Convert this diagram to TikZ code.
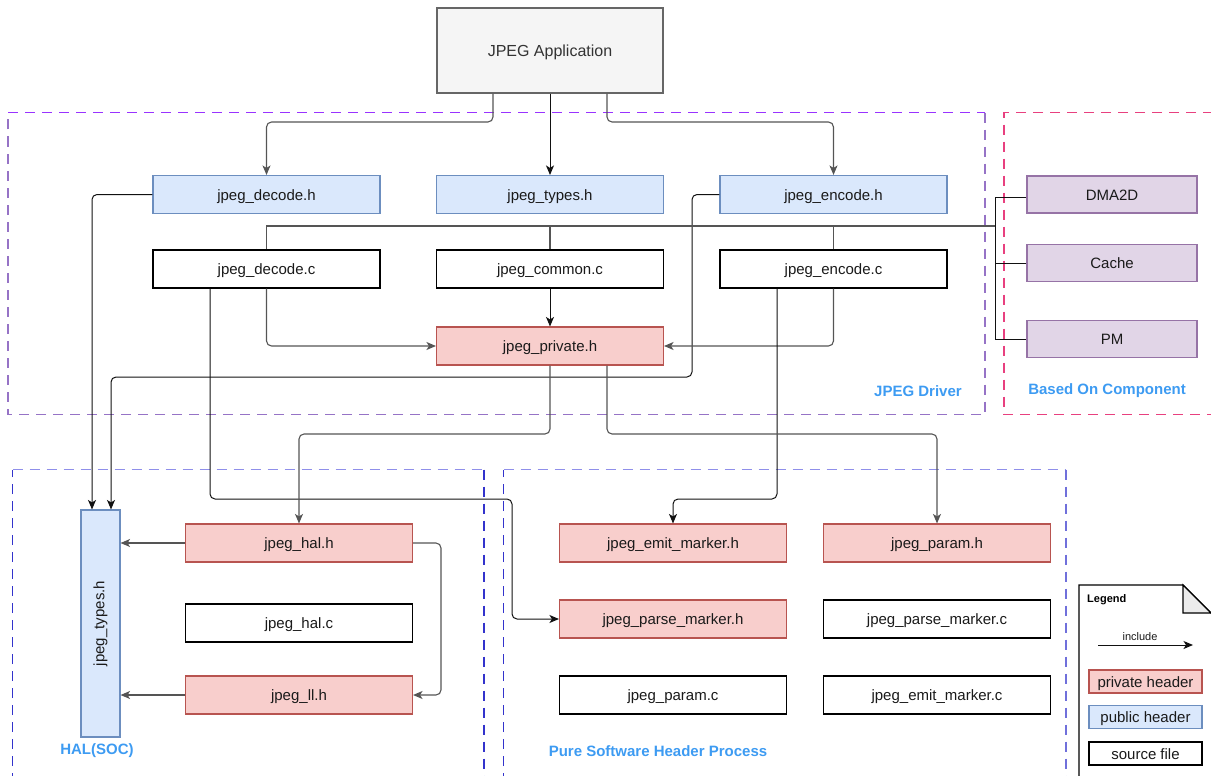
\documentclass[tikz,border=0pt]{standalone}
\usepackage{fontspec}
\setmainfont{Liberation Sans}
\usetikzlibrary{arrows.meta,calc}
\definecolor{appfill}{HTML}{F5F5F5}
\definecolor{appdraw}{HTML}{666666}
\definecolor{pubfill}{HTML}{DAE8FC}
\definecolor{pubdraw}{HTML}{6C8EBF}
\definecolor{privfill}{HTML}{F8CECC}
\definecolor{privdraw}{HTML}{B85450}
\definecolor{compfill}{HTML}{E1D5E7}
\definecolor{compdraw}{HTML}{9673A6}
\definecolor{txt}{HTML}{1A1A1A}
\definecolor{lgray}{HTML}{555555}
\definecolor{lblack}{HTML}{111111}
\definecolor{lblue}{HTML}{3D9BF2}
\definecolor{drvtop}{HTML}{9933FF}
\definecolor{drvside}{HTML}{9673C6}
\definecolor{cmpred}{HTML}{E8407F}
\definecolor{haltop}{HTML}{8F8FEA}
\definecolor{halside}{HTML}{3333CC}
\tikzset{
  boxbase/.style={draw, line width=1.1pt, minimum width=227pt, minimum height=38pt, inner sep=0pt, text=txt, font=\fontsize{15}{18}\selectfont, text height=12.5pt, text depth=1pt},
  pubbox/.style={boxbase, fill=pubfill, draw=pubdraw},
  privbox/.style={boxbase, fill=privfill, draw=privdraw},
  srcbox/.style={boxbase, fill=white, draw=black},
  compbox/.style={boxbase, fill=compfill, draw=compdraw, minimum width=170pt, minimum height=37pt},
  conn/.style={line width=1.1pt, rounded corners=5pt, draw=lgray},
  connk/.style={conn, draw=lblack, line width=1pt},
  tip/.style={-{Stealth[length=9.5pt,width=8pt,inset=2.5pt]}},
  grouplbl/.style={text=lblue, font=\fontsize{15}{18}\selectfont\bfseries, inner sep=0pt},
  grp/.style={line width=1.3pt, dash pattern=on 10pt off 7pt}
}
\begin{document}
\begin{tikzpicture}[x=1pt,y=-1pt]
\useasboundingbox (0,0) rectangle (1211,776);
\clip (0,0) rectangle (1211,776);
% group frames
\draw[grp, draw=drvside] (985,112.5) -- (985,414.5) -- (8,414.5) -- (8,112.5);
\draw[grp, draw=drvtop] (8,112.5) -- (985,112.5);
\draw[grp, draw=cmpred] (1230,112.5) -- (1004,112.5) -- (1004,414.5) -- (1230,414.5);
\draw[grp, draw=halside] (12.5,800) -- (12.5,469.5);
\draw[grp, draw=halside] (484,469.5) -- (484,800);
\draw[grp, draw=haltop] (12.5,469.5) -- (484,469.5);
\draw[grp, draw=halside] (503.5,800) -- (503.5,469.5);
\draw[grp, draw=halside!70!white] (1066,469.5) -- (1066,800);
\draw[grp, draw=haltop] (503.5,469.5) -- (1066,469.5);

\node[grouplbl] (lbldrv) at (918,391) {JPEG Driver};
\node[grouplbl] (lblcmp) at (1107,391) {Based On Component};
\node[grouplbl] (lblhal) at (97,751) {HAL(SOC)};
\node[grouplbl] (lblsw) at (658,751) {Pure Software Header Process};

% nodes
\node[boxbase, fill=appfill, draw=appdraw, minimum width=226pt, minimum height=85pt, text=black!80, font=\fontsize{16}{19}\selectfont] (app) at (550,50.5) {JPEG Application};
\node[pubbox] (dech) at (266.5,194.5) {jpeg\_decode.h};
\node[pubbox] (typh) at (550,194.5) {jpeg\_types.h};
\node[pubbox] (ench) at (833.5,194.5) {jpeg\_encode.h};
\node[srcbox] (decc) at (266.5,269) {jpeg\_decode.c};
\node[srcbox] (comc) at (550,269) {jpeg\_common.c};
\node[srcbox] (encc) at (833.5,269) {jpeg\_encode.c};
\node[privbox] (privh) at (550,346) {jpeg\_private.h};
\node[compbox] (dma) at (1112,194.5) {DMA2D};
\node[compbox] (cache) at (1112,263) {Cache};
\node[compbox] (pm) at (1112,339) {PM};
\node[pubbox, minimum width=39pt, minimum height=227pt, text height=, text depth=] (vtypes) at (100.5,623.5) {\rotatebox{90}{jpeg\_types.h}};
\node[privbox] (halh) at (299,543) {jpeg\_hal.h};
\node[srcbox] (halc) at (299,623) {jpeg\_hal.c};
\node[privbox] (llh) at (299,695) {jpeg\_ll.h};
\node[privbox] (emith) at (673,543) {jpeg\_emit\_marker.h};
\node[privbox] (paramh) at (937,543) {jpeg\_param.h};
\node[privbox] (parseh) at (673,619) {jpeg\_parse\_marker.h};
\node[srcbox] (parsec) at (937,619) {jpeg\_parse\_marker.c};
\node[srcbox] (paramc) at (673,695) {jpeg\_param.c};
\node[srcbox] (emitc) at (937,695) {jpeg\_emit\_marker.c};

% routing levels
\coordinate (yA) at (0,122);
\coordinate (yE) at (0,434);
\coordinate (yF) at (0,499);
\coordinate (bx) at (995,226);
\coordinate (a1) at ([xshift=-57pt]app.south);
\coordinate (a3) at ([xshift=57pt]app.south);
\coordinate (e5) at (692,377);
\coordinate (d10) at ([xshift=-56.5pt]decc.south);
\coordinate (f10) at (512,499);
\coordinate (e11) at ([xshift=-56.5pt]encc.south);
\coordinate (p13) at ([xshift=57pt]privh.south);
\coordinate (h16) at (441,600);

% connectors
\draw[conn, tip] (a1) |- (dech.north |- yA) -- (dech.north);
\draw[connk, tip] (app.south) -- (typh.north);
\draw[conn, tip] (a3) |- (ench.north |- yA) -- (ench.north);
\draw[connk, tip] (dech.west) -| ([xshift=-8.5pt]vtypes.north);
\draw[connk, tip] (ench.west) -| (e5) -| ([xshift=10.5pt]vtypes.north);
% bus to components
\draw[conn, rounded corners=0pt] (decc.north) |- (bx);
\draw[conn, rounded corners=0pt] (comc.north) -- (comc.north |- bx);
\draw[conn, rounded corners=0pt] (encc.north) -- (encc.north |- bx);
\draw[connk, rounded corners=0pt] ([yshift=-3pt]dma.west) -| (pm.west -| bx) -- (pm.west);
\draw[connk, rounded corners=0pt] (cache.west) -- (cache.west -| bx);
% into private header
\draw[conn, tip] (decc.south) |- (privh.west);
\draw[connk, tip] (comc.south) -- (privh.north);
\draw[conn, tip] (encc.south) |- (privh.east);
% long routes
\draw[connk, tip] (d10) |- (f10) |- (parseh.west);
\draw[connk, tip] (e11) |- (emith.north |- yF) -- (emith.north);
\draw[conn, tip] (privh.south) |- (halh.north |- yE) -- (halh.north);
\draw[conn, tip] (p13) |- (paramh.north |- yE) -- (paramh.north);
% HAL
\draw[conn, tip] (halh.west) -- (halh.west -| vtypes.east);
\draw[conn, tip] (llh.west) -- (llh.west -| vtypes.east);
\draw[conn, tip] (halh.east) -| (h16) |- (llh.east);

% legend
\draw[line width=1.1pt, fill=white] (1079,800) -- (1079,585) -- (1183,585) -- (1213,615) -- (1213,800);
\draw[line width=1.1pt, fill=black!8] (1183,585) -- (1183,613) -- (1211,613) -- cycle;
\node[anchor=west, inner sep=0pt, font=\fontsize{11}{13}\selectfont\bfseries] (lgt) at (1087,599.5) {Legend};
\coordinate (lga) at (1098,645);
\coordinate (lgb) at (1193,645);
\draw[connk, tip] (lga) -- (lgb);
\node[inner sep=0pt, font=\fontsize{11}{13}\selectfont, text=txt] (lginc) at (1140,636.5) {include};
\node[privbox, minimum width=113pt, minimum height=23pt] (lgpriv) at (1145.5,681.5) {private header};
\node[pubbox, minimum width=113pt, minimum height=23pt] (lgpub) at (1145.5,717) {public header};
\node[srcbox, minimum width=113pt, minimum height=23pt] (lgsrc) at (1145.5,753.5) {source file};
\end{tikzpicture}
\end{document}
